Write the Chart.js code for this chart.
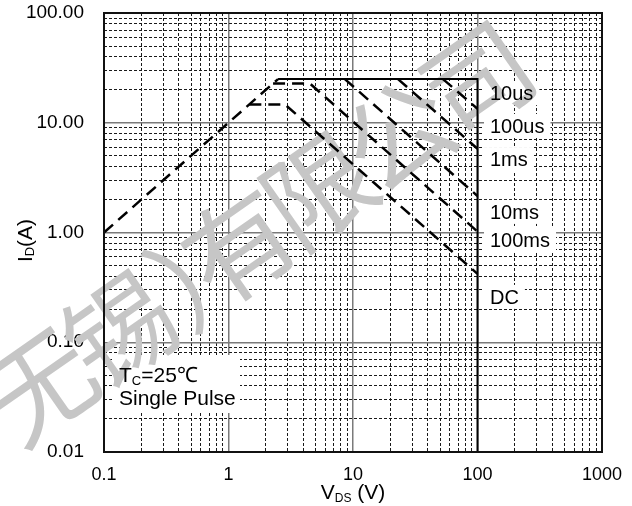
<!DOCTYPE html>
<html>
<head>
<meta charset="utf-8">
<script src="https://cdn.jsdelivr.net/npm/chart.js@4.4.1/dist/chart.umd.min.js"></script>
<style>
  html, body { margin: 0; padding: 0; background: #fff; }
  #wrap { width: 632px; height: 506px; }
</style>
</head>
<body>
<div id="wrap"><canvas id="soaChart"></canvas></div>
<script>
// axis decades and the minor steps inside each decade
const xDecades = [0.1, 1, 10, 100, 1000];
const yDecades = [0.01, 0.1, 1, 10, 100];
const minorSteps = [1, 2, 3, 4, 5, 6, 7, 8, 9];

// safe operating area boundaries, V_DS (V) vs I_D (A)
const rdsV = [0.1, 2.5];
const rdsI = [1.0, 25];
const limitV = [2.5, 100, 100];
const limitI = [25, 25, 0.01];
const us10V = [52.8, 100];
const us10I = [25, 13.4];
const us100V = [23, 100];
const us100I = [25, 5.8];
const ms1V = [8.6, 100];
const ms1I = [25, 2.15];
const ms10V = [2.28, 4.5, 100];
const ms10I = [22.8, 22.8, 1.02];
const dcV = [1.47, 2.84, 100];
const dcI = [14.7, 14.7, 0.42];

// pulse width captions to the right of the curves
const pulseLabels = ['10us', '100us', '1ms', '10ms', '100ms', 'DC'];
const pulseLabelI = [18.6, 9.35, 4.67, 1.54, 0.855, 0.259];
const pulseLabelV = 126;

const FONT = '"Liberation Sans", Arial, sans-serif';

// watermark glyphs and their spacing along the slanted line
const markChars = ['无', '锡', '）', '有', '限', '公', '司'];
const markOffsets = [0, 97, 205, 243, 340, 437, 534];

function decadeTicks(decades) {
    const out = [];
    for (let i = 0; i < decades.length - 1; i++) {
        minorSteps.forEach(m => out.push(decades[i] * m));
    }
    out.push(decades[decades.length - 1]);
    return out;
}

function isDecade(v) {
    const l = Math.log10(v);
    return Math.abs(l - Math.round(l)) < 1e-6;
}

function pts(xs, ys) {
    return xs.map((x, i) => ({ x: x, y: ys[i] }));
}

const xTicks = decadeTicks(xDecades);
const yTicks = decadeTicks(yDecades);

const dashed = {
    borderColor: '#000',
    borderWidth: 2.5,
    borderDash: [12, 7],
    pointRadius: 0,
    fill: false
};

// tick marks are kept invisible; their length just pushes the labels off the frame
function gridOpts(tickLen) {
    return {
        drawTicks: true,
        tickLength: tickLen,
        tickColor: 'rgba(0,0,0,0)',
        color: ctx => (ctx.tick && isDecade(ctx.tick.value)) ? '#7a7a7a' : '#1a1a1a',
        lineWidth: ctx => (ctx.tick && isDecade(ctx.tick.value)) ? 1.5 : 1
    };
}

function borderOpts() {
    return {
        display: false,
        dash: ctx => (ctx.tick && !isDecade(ctx.tick.value)) ? [3, 2] : []
    };
}

// text with subscript, drawn piece by piece from (x, y) on the baseline
function drawSubText(ctx, parts, x, y) {
    let cx = x;
    parts.forEach(p => {
        ctx.font = p.size + 'px ' + FONT;
        ctx.fillText(p.text, cx, y + (p.shift || 0));
        cx += ctx.measureText(p.text).width;
    });
    return cx - x;
}

function subTextWidth(ctx, parts) {
    let w = 0;
    parts.forEach(p => {
        ctx.font = p.size + 'px ' + FONT;
        w += ctx.measureText(p.text).width;
    });
    return w;
}

const soaDecor = {
    id: 'soaDecor',
    beforeDatasetsDraw(chart) {
        const { ctx, chartArea, scales: { x, y } } = chart;
        ctx.save();

        // white boxes behind the captions
        ctx.fillStyle = '#fff';
        ctx.font = '20px ' + FONT;
        const lx = x.getPixelForValue(pulseLabelV);
        pulseLabels.forEach((t, i) => {
            const py = y.getPixelForValue(pulseLabelI[i]);
            const w = ctx.measureText(t).width;
            ctx.fillRect(lx - 6, py - 12, w + 12, 24);
        });
        ctx.fillRect(chartArea.left + 9, chartArea.bottom - 97, 127, 58);

        // watermark
        ctx.translate(40, 385);
        ctx.rotate(-35 * Math.PI / 180);
        ctx.font = '108px "Noto Sans CJK SC"';
        ctx.fillStyle = '#c6c6c6';
        ctx.textBaseline = 'middle';
        ctx.textAlign = 'center';
        markChars.forEach((c, i) => ctx.fillText(c, markOffsets[i], 0));
        ctx.restore();
    },
    afterDatasetsDraw(chart) {
        const { ctx, chartArea, scales: { x, y } } = chart;
        ctx.save();

        // plot frame
        ctx.strokeStyle = '#111';
        ctx.lineWidth = 2;
        ctx.strokeRect(chartArea.left, chartArea.top,
            chartArea.right - chartArea.left, chartArea.bottom - chartArea.top);

        ctx.fillStyle = '#000';
        ctx.textBaseline = 'alphabetic';
        ctx.textAlign = 'left';

        // pulse captions
        ctx.font = '20px ' + FONT;
        const lx = x.getPixelForValue(pulseLabelV);
        pulseLabels.forEach((t, i) => {
            const py = y.getPixelForValue(pulseLabelI[i]);
            ctx.fillText(t, lx, py + 7);
        });

        // test condition
        const tx = chartArea.left + 15;
        drawSubText(ctx, [
            { text: 'T', size: 21 },
            { text: 'C', size: 13, shift: 3 },
            { text: '=25\u2103', size: 21 }
        ], tx, chartArea.bottom - 70);
        ctx.font = '21px ' + FONT;
        ctx.fillText('Single Pulse', tx, chartArea.bottom - 47);

        // x axis title
        const xParts = [
            { text: 'V', size: 21 },
            { text: 'DS', size: 12, shift: 3 },
            { text: ' (V)', size: 21 }
        ];
        const xw = subTextWidth(ctx, xParts);
        drawSubText(ctx, xParts, (chartArea.left + chartArea.right) / 2 - xw / 2, chartArea.bottom + 47);

        // y axis title, rotated
        const yParts = [
            { text: 'I', size: 21 },
            { text: 'D', size: 13, shift: 2 },
            { text: '(A)', size: 21 }
        ];
        const yw = subTextWidth(ctx, yParts);
        ctx.translate(32, (chartArea.top + chartArea.bottom) / 2 + 8 + yw / 2);
        ctx.rotate(-Math.PI / 2);
        drawSubText(ctx, yParts, 0, 0);
        ctx.restore();
    }
};

new Chart(document.getElementById('soaChart'), {
    type: 'line',
    data: {
        datasets: [
            { label: 'RDS(on) limit', data: pts(rdsV, rdsI), ...dashed },
            { label: 'Package limit', data: pts(limitV, limitI), borderColor: '#000', borderWidth: 2, pointRadius: 0, fill: false },
            { label: '10us', data: pts(us10V, us10I), ...dashed },
            { label: '100us', data: pts(us100V, us100I), ...dashed },
            { label: '1ms', data: pts(ms1V, ms1I), ...dashed },
            { label: '10ms', data: pts(ms10V, ms10I), ...dashed },
            { label: 'DC', data: pts(dcV, dcI), ...dashed }
        ]
    },
    options: {
        responsive: true,
        maintainAspectRatio: false,
        animation: false,
        layout: { padding: { left: 0, right: 30, top: 13, bottom: 0 } },
        plugins: {
            legend: { display: false },
            tooltip: { enabled: false }
        },
        scales: {
            x: {
                type: 'logarithmic',
                min: 0.1,
                max: 1000,
                afterBuildTicks: axis => { axis.ticks = xTicks.map(v => ({ value: v })); },
                afterFit: axis => { axis.height = 54; },
                grid: gridOpts(12),
                border: borderOpts(),
                ticks: {
                    autoSkip: false,
                    maxRotation: 0,
                    padding: 0,
                    color: '#000',
                    font: { family: FONT, size: 18 },
                    callback: v => isDecade(v) ? String(v) : ''
                }
            },
            y: {
                type: 'logarithmic',
                min: 0.01,
                max: 100,
                afterBuildTicks: axis => { axis.ticks = yTicks.map(v => ({ value: v })); },
                afterFit: axis => { axis.width = 104; },
                grid: gridOpts(20),
                border: borderOpts(),
                ticks: {
                    autoSkip: false,
                    padding: 0,
                    color: '#000',
                    font: { family: FONT, size: 19 },
                    callback: v => isDecade(v) ? Number(v).toFixed(2) : ''
                }
            }
        }
    },
    plugins: [soaDecor]
});
</script>
</body>
</html>
